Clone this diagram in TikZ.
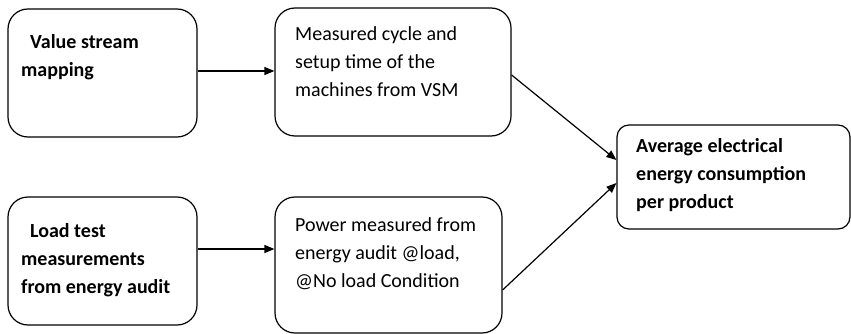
\documentclass[tikz,border=0pt]{standalone}
\usepackage{fontspec}
\setmainfont{Carlito}
\usetikzlibrary{arrows.meta}
\begin{document}
\begin{tikzpicture}[x=1pt,y=-1pt,
  box/.style={draw=black,line width=1.2pt,rounded corners=20pt,inner sep=0pt},
  % multi-line text blocks are placed by the baseline of their last line
  txt/.style={anchor=base west,align=left,inner sep=0pt,font=\fontsize{20}{28}\selectfont},
  boldtxt/.style={txt,font=\fontsize{20}{28}\selectfont\bfseries},
  link/.style={line width=1.2pt,-{Triangle[length=10pt,width=8pt]}}]
\useasboundingbox (0,0) rectangle (851,334);
\clip (0,0) rectangle (851,334);

% boxes
\node[box,minimum width=189pt,minimum height=128pt] (A) at (102.5,73) {};
\node[box,minimum width=236pt,minimum height=128pt] (B) at (393,72) {};
\node[box,minimum width=189pt,minimum height=128pt] (C) at (102.5,261) {};
\node[box,minimum width=227pt,minimum height=136pt] (D) at (388.5,265) {};
\node[box,rounded corners=12pt,minimum width=233pt,minimum height=104pt] (E) at (733.5,177) {};

% texts
\node[boldtxt] (tA) at (21,77) {\hspace*{9pt}Value stream\\mapping};
\node[txt] (tB) at (295,97) {Measured cycle and\\setup time of the\\machines from VSM};
\node[boldtxt] (tC) at (21,293) {\hspace*{9pt}Load test\\measurements\\from energy audit};
\node[txt] (tD) at (295,287) {Power measured from\\energy audit @load,\\@No load Condition};
\node[boldtxt] (tE) at (636,208) {Average electrical\\energy consumption\\per product};

% connectors
\draw[link] ([yshift=2pt]A.east) -- ([yshift=2pt]A.east -| B.west);
\draw[link] ([yshift=12pt]C.east) -- ([yshift=12pt]C.east -| D.west);
\draw[link] ([yshift=-3pt]B.east) -- ([yshift=17pt]E.west);
\draw[link] ([yshift=-25pt]D.east) -- ([yshift=-6pt]E.west);
\end{tikzpicture}
\end{document}
